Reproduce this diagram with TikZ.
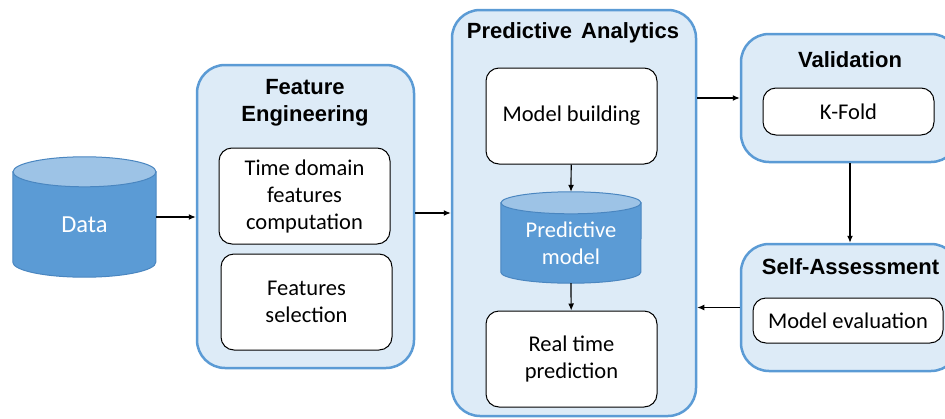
\documentclass[tikz,border=0pt]{standalone}
\usepackage{fontspec}
\setmainfont{Carlito}
\newfontfamily\headfont{Liberation Sans}
\usetikzlibrary{arrows.meta,positioning}
\definecolor{stageline}{HTML}{5B9BD5}
\definecolor{stagefill}{HTML}{DDEBF7}
\definecolor{cylbody}{HTML}{5B9BD5}
\definecolor{cyltop}{HTML}{9DC3E6}
\definecolor{cylline}{HTML}{4A86C0}

\tikzset{
  stage/.style={draw=stageline, fill=stagefill, line width=2.5pt, rounded corners=28pt},
  task/.style={draw=black, fill=white, line width=1pt, rounded corners=13pt, align=center,
    font=\fontsize{22.5}{27}\selectfont, minimum width=171pt},
  stagetitle/.style={align=center, font=\headfont\bfseries\fontsize{22}{27}\selectfont},
  drum/.style={draw=none, inner sep=0pt},
  drumbody/.style={fill=cylbody, draw=cylline, line width=1pt},
  drumtop/.style={fill=cyltop, draw=cylline, line width=1pt},
  drumtext/.style={text=white, align=center, font=\fontsize{22.5}{27}\selectfont},
  link/.style={-{Latex[length=7pt,width=6pt]}, line width=1.2pt}
}

\begin{document}
\begin{tikzpicture}[x=1pt,y=-1pt]
  \useasboundingbox (0,0) rectangle (945,418);
  \clip (0,0) rectangle (945,418);

  % stages
  \node[stage, minimum width=217pt, minimum height=303pt] (fe) at (305.5,216.5) {};
  \node[stage, minimum width=244pt, minimum height=406pt] (pa) at (574,213) {};
  \node[stage, minimum width=218pt, minimum height=128pt] (val) at (850,98) {};
  \node[stage, minimum width=218pt, minimum height=127pt] (sa) at (850,307.5) {};

  \node[stagetitle] (fetitle) at (305,103) {Feature\\Engineering};
  \node[stagetitle] (patitle) at (573,33) {Predictive\hspace{3pt} Analytics};
  \node[stagetitle] (valtitle) at (850,60) {Validation};
  \node[stagetitle] (satitle) at (850.5,267) {Self-Assessment};

  % data source
  \node[drum, minimum width=143pt, minimum height=120pt] (data) at (84.5,217) {};
  \filldraw[drumbody] ([yshift=-15pt]data.north west) -- ([yshift=15pt]data.south west)
    arc[start angle=180, end angle=360, x radius=71.5pt, y radius=15pt]
    -- ([yshift=-15pt]data.north east) -- cycle;
  \filldraw[drumtop] ([yshift=-15pt]data.north) ellipse[x radius=71.5pt, y radius=15pt];
  \node[drumtext, font=\fontsize{24.5}{29}\selectfont] (datatext) at (84.5,225) {Data};

  % feature engineering
  \node[task, minimum height=96pt] (tdf) at (304.5,196) {Time domain\\features\\computation};
  \node[task, minimum height=96pt] (fsel) at (306.5,302) {Features\\selection};

  % predictive analytics
  \node[task, minimum height=96pt] (build) at (571.5,116) {Model building};
  \node[drum, minimum width=140pt, minimum height=91pt] (model) at (571,237.5) {};
  \filldraw[drumbody] ([yshift=-11pt]model.north west) -- ([yshift=11pt]model.south west)
    arc[start angle=180, end angle=360, x radius=70pt, y radius=11pt]
    -- ([yshift=-11pt]model.north east) -- cycle;
  \filldraw[drumtop] ([yshift=-11pt]model.north) ellipse[x radius=70pt, y radius=11pt];
  \node[drumtext] (modeltext) at (571,243.5) {Predictive\\model};
  \node[task, minimum height=96pt] (rtp) at (571.5,359) {Real time\\prediction};

  % validation and self-assessment
  \node[task, minimum height=47pt] (kfold) at (848.5,111.5) {K-Fold};
  \node[task, minimum width=190pt, minimum height=45pt] (meval) at (848,320.5) {Model evaluation};

  \draw[link] (data.east) -- (data.east -| fe.west);
  \draw[link] (fe.east |- pa.west) -- (pa.west);
  \draw[link] (pa.east |- val.west) -- (val.west);
  \draw[link] (val) -- (sa);
  \draw[link] (sa.west) -- (sa.west -| pa.east);
  \draw[link] (build) -- (model.north);
  \draw[link] (model.south) -- (rtp);
\end{tikzpicture}
\end{document}
